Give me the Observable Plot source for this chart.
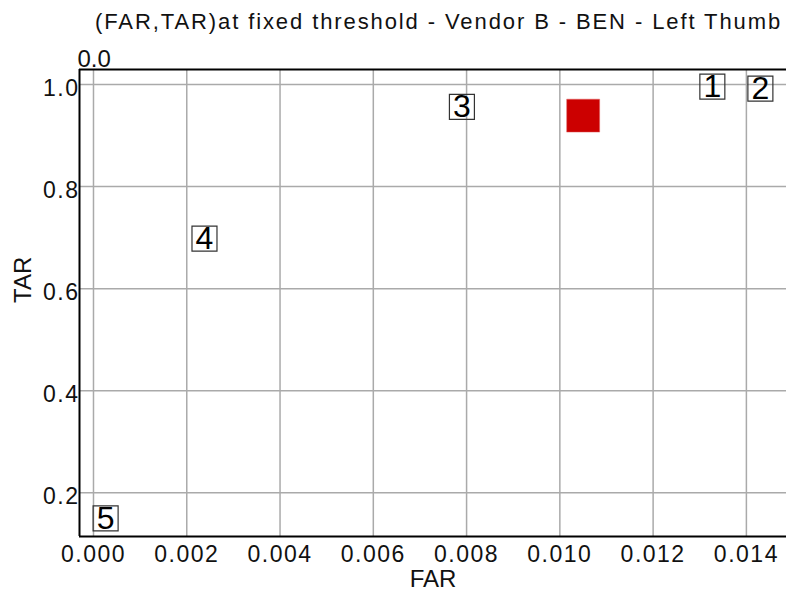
<!DOCTYPE html>
<html>
<head>
<meta charset="utf-8">
<script src="https://cdn.jsdelivr.net/npm/d3@7"></script>
<script src="https://cdn.jsdelivr.net/npm/@observablehq/plot@0.6"></script>
<style>
  html, body { margin: 0; padding: 0; background: #fff; }
  #chart svg { display: block; font-family: "Liberation Sans", Arial, sans-serif; }
</style>
</head>
<body>
<div id="chart"></div>
<script>
// ---- data ----
const titleText = "(FAR,TAR)at fixed threshold - Vendor B - BEN - Left Thumb";
const xLabel = "FAR";
const yLabel = "TAR";
const pointLabels = ["1", "2", "3", "4", "5"];
const farValues = [0.01327, 0.0143, 0.0079, 0.00238, 0.00026];
const tarValues = [0.996, 0.992, 0.956, 0.698, 0.15];
const markerFar = [0.0105];
const markerTar = [0.939];
const xTicks = [0, 0.002, 0.004, 0.006, 0.008, 0.010, 0.012, 0.014];
const yTicks = [0.2, 0.4, 0.6, 0.8, 1.0];
const topCornerLabel = ["0.0"];
const xDomain = [-0.0003, 0.01486];
const yDomain = [0.1144, 1.0294];

const points = pointLabels.map((l, i) => ({label: l, far: farValues[i], tar: tarValues[i]}));
const marker = markerFar.map((f, i) => ({far: f, tar: markerTar[i]}));

const plot = Plot.plot({
  width: 786,
  height: 595,
  marginLeft: 79,
  marginTop: 69,
  marginRight: 0,
  marginBottom: 59,
  style: {fontFamily: '"Liberation Sans", Arial, sans-serif', color: "#000", background: "#fff"},
  x: {domain: xDomain, label: null},
  y: {domain: yDomain, label: null},
  marks: [
    Plot.gridX(xTicks, {stroke: "#aaa", strokeOpacity: 1, strokeWidth: 1.5}),
    Plot.gridY(yTicks, {stroke: "#aaa", strokeOpacity: 1, strokeWidth: 1.5}),
    Plot.axisX(xTicks, {tickSize: 0, tickPadding: 9, tickFormat: d3.format(".3f"), fontSize: 23, label: null, fill: "#111"}),
    Plot.axisY(yTicks, {tickSize: 0, tickPadding: 0, tickFormat: d3.format(".1f"), fontSize: 23, label: null, dy: 4, fill: "#111"}),
    Plot.ruleX([xDomain[0]], {stroke: "#000", strokeWidth: 2}),
    Plot.ruleY([yDomain[0]], {stroke: "#000", strokeWidth: 2}),
    Plot.ruleY([yDomain[1]], {stroke: "#000", strokeWidth: 2}),
    Plot.dot(marker, {x: "far", y: "tar", symbol: "square", r: 18.6, fill: "#cc0000", stroke: "#e06666", strokeWidth: 0.5}),
    Plot.dot(points, {x: "far", y: "tar", symbol: "square", r: 14.1, fill: "none", stroke: "#333", strokeWidth: 1.2}),
    Plot.text(points, {x: "far", y: "tar", text: "label", fontSize: 32, fill: "#000", lineAnchor: "middle", dy: 0}),
    Plot.text([titleText], {frameAnchor: "top", lineAnchor: "middle", dy: -48, dx: 5.5, fontSize: 22, fill: "#111"}),
    Plot.text(topCornerLabel, {frameAnchor: "top-left", lineAnchor: "middle", textAnchor: "start", dx: -2, dy: -10, fontSize: 24, fill: "#111"}),
    Plot.text([xLabel], {frameAnchor: "bottom", lineAnchor: "middle", dy: 43, fontSize: 24, fill: "#111"}),
    Plot.text([yLabel], {frameAnchor: "left", lineAnchor: "middle", dx: -56, rotate: -90, fontSize: 24, fill: "#111"})
  ]
});
const tickStrings = new Set([...xTicks.map(d3.format(".3f")), ...yTicks.map(d3.format(".1f"))]);
d3.select(plot).selectAll("text").filter(function() { return tickStrings.has(this.textContent); }).attr("letter-spacing", "1.5px");
d3.select(plot).selectAll("text").filter(function() { return this.textContent === titleText; }).attr("letter-spacing", "1.9px");
document.getElementById("chart").appendChild(plot);
</script>
</body>
</html>
